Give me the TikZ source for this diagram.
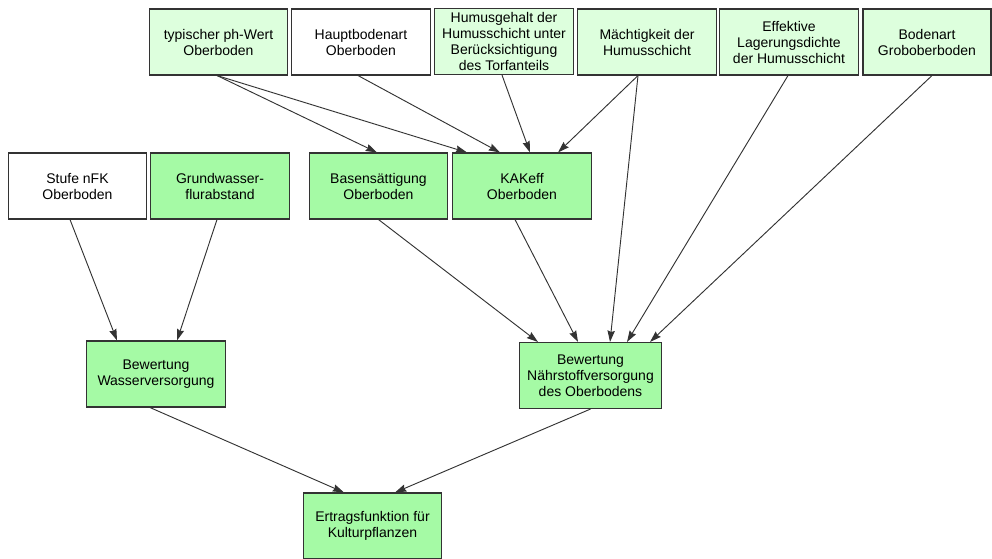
\documentclass[tikz,border=0pt]{standalone}
\usepackage{fontspec}
\setmainfont{Liberation Sans}
\usetikzlibrary{positioning, calc, arrows.meta}
\definecolor{hellgruen}{RGB}{221,255,221}
\definecolor{gruen}{RGB}{165,250,165}
\definecolor{rand}{RGB}{51,51,51}

\begin{document}
\begin{tikzpicture}[x=0.75pt, y=-0.75pt,
        box/.style={draw=rand, line width=0.8pt, align=center, inner sep=1pt,
            minimum width=104pt, minimum height=49.5pt,
            font=\fontsize{10.5}{12}\selectfont},
        leer/.style={box, fill=white},
        hell/.style={box, fill=hellgruen},
        voll/.style={box, fill=gruen},
        pfeil/.style={-{Stealth[length=8.5pt, width=5.5pt, inset=1pt]}, draw=rand, line width=0.7pt}]
        \useasboundingbox (0,0) rectangle (992,558);

        % obere Reihe
        \node[hell] (pH) at (218.5,42) {typischer ph-Wert\\Oberboden};
        \node[leer] (HBA) at (361,42) {Hauptbodenart\\Oberboden};
        \node[hell] (HG) at (504,41.5) {Humusgehalt der\\Humusschicht unter\\Berücksichtigung\\des Torfanteils};
        \node[hell] (MH) at (647,42) {Mächtigkeit der\\Humusschicht};
        \node[hell] (LD) at (789,42) {Effektive\\Lagerungsdichte\\der Humusschicht};
        \node[hell, minimum width=96pt] (BA) at (927,42) {Bodenart\\Groboberboden};

        % mittlere Reihe
        \node[leer] (nFK) at (77.5,186) {Stufe nFK\\Oberboden};
        \node[voll] (GW) at (220,186) {Grundwasser-\\flurabstand};
        \node[voll] (BS) at (378.5,186) {Basensättigung\\Oberboden};
        \node[voll] (KAK) at (522,186) {KAKeff\\Oberboden};

        % Bewertungen
        \node[voll] (WV) at (156,374) {Bewertung\\Wasserversorgung};
        \node[voll, minimum width=107pt] (NV) at (590.5,375.5) {Bewertung\\Nährstoffversorgung\\des Oberbodens};
        \node[voll] (EF) at (372.5,526) {Ertragsfunktion für\\Kulturpflanzen};

        \draw[pfeil] ($(pH.south)+(-1.5,0)$) -- ($(BS.north)+(-1.5,0)$);
        \draw[pfeil] ($(pH.south)+(-1.5,0)$) -- ($(KAK.north)+(-55,0)$);
        \draw[pfeil] ($(HBA.south)+(-3,0)$) -- ($(KAK.north)+(-22,0)$);
        \draw[pfeil] ($(HG.south)+(-2,0)$) -- ($(KAK.north)+(8,0)$);
        \draw[pfeil] ($(MH.south)+(-9,0)$) -- ($(KAK.north)+(36,0)$);
        \draw[pfeil] ($(MH.south)+(-9,0)$) -- ($(NV.north)+(19.5,0)$);
        \draw[pfeil] ($(LD.south)+(-1,0)$) -- ($(NV.north)+(36.5,0)$);
        \draw[pfeil] ($(BA.south)+(5,0)$) -- ($(NV.north)+(59.5,0)$);

        \draw[pfeil] ($(BS.south)+(0,0)$) -- ($(NV.north)+(-52.5,0)$);
        \draw[pfeil] ($(KAK.south)+(-7,0)$) -- ($(NV.north)+(-12.5,0)$);
        \draw[pfeil] ($(nFK.south)+(-7.5,0)$) -- ($(WV.north)+(-39,0)$);
        \draw[pfeil] ($(GW.south)+(-3,0)$) -- ($(WV.north)+(21,0)$);

        \draw[pfeil] ($(WV.south)+(-6,0)$) -- ($(EF.north)+(-28.5,0)$);
        \draw[pfeil] ($(NV.south)+(0,0)$) -- ($(EF.north)+(22.5,0)$);
    \end{tikzpicture}
\end{document}
